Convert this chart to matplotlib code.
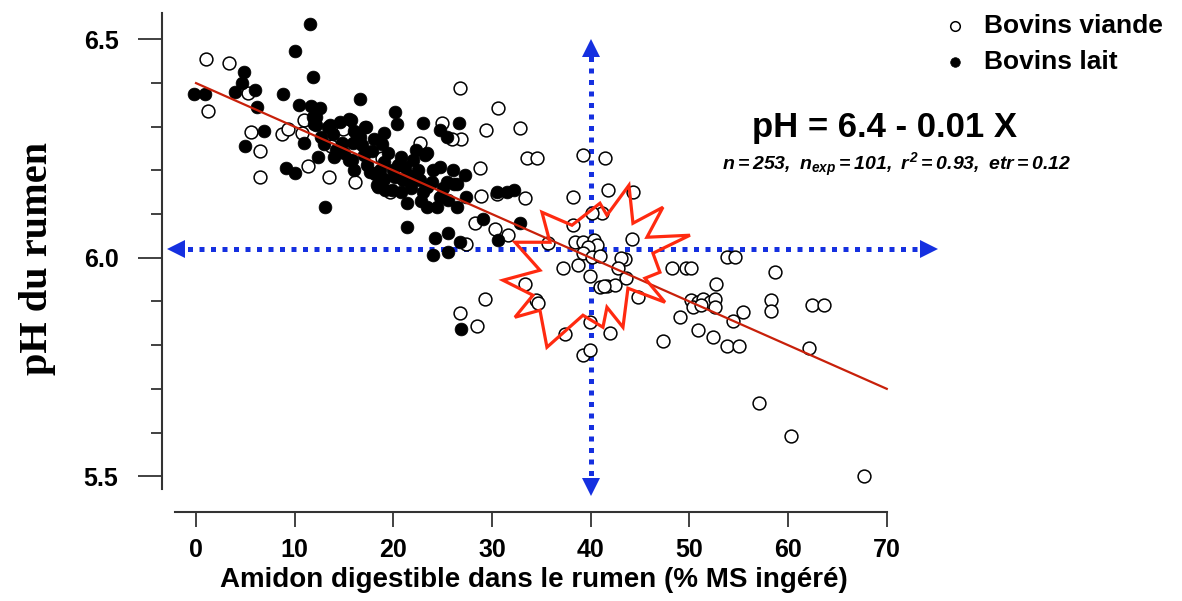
import matplotlib
matplotlib.use("Agg")
import matplotlib.pyplot as plt
import numpy as np
from matplotlib.patches import Polygon
from matplotlib.transforms import ScaledTranslation

plt.rcParams['font.family'] = ['Liberation Sans', 'DejaVu Sans']
plt.rcParams['mathtext.fontset'] = 'custom'
plt.rcParams['mathtext.rm'] = 'Liberation Sans:bold:italic'
plt.rcParams['mathtext.it'] = 'Liberation Sans:bold:italic'
plt.rcParams['mathtext.bf'] = 'Liberation Sans:bold:italic'

# Bovins lait (filled)
lait_x = [-0.2, 0.9, 3.9, 4.7, 4.9, 6.0, 6.2, 5.0, 6.9, 8.8, 10.0, 11.5, 11.9, 10.4,
          11.7, 12.6, 10.9, 9.1, 10.0, 12.4, 13.1, 15.7, 16.6, 17.1, 11.95, 12.2,
          13.4, 13.9, 12.7, 14.8, 14.2, 15.5, 16.3, 16.8, 18.0, 17.3, 18.1, 19.0,
          18.4, 19.1, 11.9, 13.6, 15.5, 20.2, 20.4, 23.0, 26.6, 14.4, 15.9, 15.8,
          17.0, 17.6, 18.6, 18.3, 20.5, 21.2, 22.3, 23.4, 22.0, 20.2, 21.0, 22.0,
          19.9, 20.8, 21.4, 22.7, 23.4, 24.0, 24.7, 23.9, 25.4, 26.4, 24.7, 25.5,
          23.4, 24.4, 26.4, 27.3, 27.4, 21.4, 24.2, 25.5, 26.7, 24.0, 25.5, 26.9,
          24.7, 25.4, 23.2, 26.1, 30.5, 31.5, 32.2, 29.1, 32.8, 30.6, 17.2, 16.6,
          19.0, 12.2, 14.0, 15.0, 16.0, 17.8, 19.5, 20.0, 21.5, 22.5, 23.0, 21.8,
          19.0, 20.8, 22.8, 25.0, 26.0, 18.8, 16.0, 14.6, 13.0]
lait_y = [6.375, 6.375, 6.38, 6.40, 6.425, 6.385, 6.345, 6.255, 6.29, 6.375, 6.474,
          6.536, 6.415, 6.35, 6.348, 6.344, 6.262, 6.205, 6.195, 6.231, 6.117, 6.315,
          6.364, 6.30, 6.306, 6.322, 6.30, 6.283, 6.277, 6.262, 6.247, 6.224, 6.277,
          6.258, 6.273, 6.212, 6.193, 6.22, 6.163, 6.155, 6.323, 6.304, 6.317, 6.334,
          6.306, 6.308, 6.308, 6.247, 6.262, 6.224, 6.235, 6.197, 6.20, 6.167, 6.212,
          6.208, 6.247, 6.239, 6.224, 6.186, 6.178, 6.186, 6.155, 6.151, 6.125, 6.178,
          6.163, 6.201, 6.208, 6.174, 6.174, 6.17, 6.14, 6.132, 6.117, 6.117, 6.117,
          6.19, 6.14, 6.071, 6.045, 6.056, 6.037, 6.006, 6.014, 5.838, 6.293, 6.277,
          6.235, 6.17, 6.151, 6.151, 6.155, 6.09, 6.079, 6.041, 6.30, 6.277, 6.285,
          6.304, 6.23, 6.24, 6.20, 6.245, 6.24, 6.20, 6.19, 6.20, 6.15, 6.16, 6.18,
          6.23, 6.13, 6.16, 6.20, 6.26, 6.29, 6.31, 6.26]

# Bovins viande (open)
viande_x = [0.98, 3.3, 1.2, 5.3, 5.6, 6.5, 6.5, 8.7, 9.35, 10.9, 10.7, 11.3, 13.5,
            13.7, 14.9, 16.1, 18.8, 26.7, 30.6, 29.4, 24.9, 26.9, 25.9, 28.8, 28.9,
            30.5, 28.3, 30.3, 31.6, 27.4, 22.7, 19.7, 32.8, 33.5, 34.6, 33.3, 39.2,
            41.4, 38.2, 41.7, 38.2, 37.2, 38.7, 33.3, 34.5, 34.7, 29.3, 26.8, 28.5,
            37.4, 39.2, 39.9, 42.0, 44.3, 41.1, 40.1, 44.2, 38.4, 39.2, 40.3, 40.6,
            39.7, 39.2, 40.1, 40.9, 43.5, 43.1, 42.8, 43.6, 39.9, 40.9, 41.6, 42.5,
            41.3, 48.2, 49.7, 50.2, 44.8, 39.9, 49.0, 50.2, 50.9, 51.4, 50.4, 50.9,
            47.3, 58.7, 52.7, 52.1, 52.6, 51.2, 52.6, 58.3, 58.3, 62.4, 63.6, 55.4,
            54.4, 52.4, 53.8, 55.0, 62.1, 57.1, 60.3, 67.7, 53.8, 54.6, 35.7]
viande_y = [6.455, 6.447, 6.336, 6.377, 6.287, 6.245, 6.186, 6.283, 6.295, 6.315,
            6.286, 6.211, 6.186, 6.256, 6.295, 6.174, 6.228, 6.388, 6.344, 6.293,
            6.309, 6.273, 6.273, 6.205, 6.141, 6.147, 6.079, 6.067, 6.052, 6.031,
            6.264, 6.15, 6.298, 6.228, 6.228, 6.136, 6.235, 6.229, 6.14, 6.155,
            6.075, 5.976, 5.983, 5.941, 5.903, 5.896, 5.905, 5.874, 5.844, 5.825,
            5.777, 5.79, 5.828, 6.151, 6.103, 6.102, 6.042, 6.037, 6.037, 6.041,
            6.029, 6.025, 6.01, 6.001, 6.004, 5.997, 5.999, 5.976, 5.953, 5.958,
            5.934, 5.935, 5.938, 5.935, 5.977, 5.976, 5.976, 5.911, 5.854, 5.865,
            5.903, 5.899, 5.905, 5.888, 5.835, 5.81, 5.967, 5.94, 5.899, 5.905,
            5.892, 5.888, 5.903, 5.879, 5.892, 5.892, 5.876, 5.856, 5.819, 5.799,
            5.799, 5.793, 5.667, 5.592, 5.501, 6.003, 6.001, 6.033]

# regression pH = 6.4 - 0.01 X
intercept = 6.4
slope = -0.01
fit_x = np.array([0, 70])

# threshold lines
seuil_x = 40
seuil_ph = 6.02

fig = plt.figure(figsize=(11.82, 6.01), dpi=100)
ax = fig.add_axes([161.5 / 1182, 89 / 601, 745 / 1182, 507.5 / 601])
ax.set_xlim(-3.5, 72)
ax.set_ylim(5.418, 6.58)

# blue dotted arrows
blue = '#1530e0'
ax.plot([-2.0, 74.3], [seuil_ph, seuil_ph], color=blue, lw=3.6,
        linestyle=(0, (1, 1.3)), clip_on=False, zorder=1)
ax.plot([seuil_x, seuil_x], [5.475, 6.48], color=blue, lw=3.6,
        linestyle=(0, (1, 1.3)), clip_on=False, zorder=1)
ax.plot([-2.0], [seuil_ph], marker='<', ms=13, color=blue, mew=0, clip_on=False)
ax.plot([74.3], [seuil_ph], marker='>', ms=13, color=blue, mew=0, clip_on=False)
ax.plot([seuil_x], [6.48], marker='^', ms=13, color=blue, mew=0, clip_on=False)
ax.plot([seuil_x], [5.475], marker='v', ms=13, color=blue, mew=0, clip_on=False)

# points
ax.scatter(viande_x, viande_y, s=85, facecolors='white', edgecolors='black',
           linewidths=1.1, zorder=3, label='Bovins viande')
ax.scatter(lait_x, lait_y, s=85, facecolors='black', edgecolors='black',
           linewidths=0.5, zorder=3, label='Bovins lait')

# regression line
ax.plot(fit_x, intercept + slope * fit_x, color='#c8200a', lw=1.6, zorder=4)

# red starburst (pixel offsets around its centre)
star_px = [(32, -80), (36, -42), (66, -58), (50, -28), (93, -30), (56, -12),
           (63, 7), (48, 13), (68, 37), (31, 23), (26, 62), (10, 42), (6, 62),
           (-14, 50), (-50, 82), (-57, 45), (-82, 52), (-64, 30), (-94, 15),
           (-57, 5), (-82, -23), (-47, -23), (-55, -53), (-25, -40), (3, -62),
           (10, -50)]
star_in = np.array([(dx / 100, -dy / 100) for dx, dy in star_px])
tr = fig.dpi_scale_trans + ScaledTranslation(40.63, 5.983, ax.transData)
ax.add_patch(Polygon(star_in, closed=True, fill=False, edgecolor='#ff2a10',
                     lw=2.3, transform=tr, zorder=5, joinstyle='miter'))

# axes style
for s in ['top', 'right']:
    ax.spines[s].set_visible(False)
for s in ['left', 'bottom']:
    ax.spines[s].set_linewidth(1.5)
    ax.spines[s].set_color('#333333')
ax.spines['left'].set_bounds(5.47, 6.56)
ax.spines['bottom'].set_bounds(-2.1, 70)

ax.set_xticks(range(0, 71, 10))
ax.set_yticks([5.5, 6.0, 6.5])
ax.set_yticklabels(['5.5', '6.0', '6.5'])
ax.set_yticks(np.arange(5.6, 6.45, 0.1), minor=True)
ax.tick_params(axis='x', length=11, width=1.3, color='#333333', pad=8,
               labelsize=18)
ax.tick_params(axis='y', which='major', length=17, width=1.3, color='#333333',
               pad=14, labelsize=18)
ax.tick_params(axis='y', which='minor', length=8, width=1.3, color='#333333')
for lab in ax.get_xticklabels() + ax.get_yticklabels():
    lab.set_fontweight('bold')

ax.set_xlabel('Amidon digestible dans le rumen (% MS ingéré)', fontsize=20,
              fontweight='bold', labelpad=3)
ax.set_ylabel('pH du rumen', fontsize=29, fontweight='bold',
              family=['Liberation Serif'], labelpad=20)

# equation and stats
fig.text(885 / 1182, 1 - 128 / 601, 'pH = 6.4 - 0.01 X', fontsize=25,
         fontweight='bold', ha='center', va='center')
fig.text(897 / 1182, 1 - 165 / 601,
         r'$n = 253,\ n_{exp} = 101,\ r^{2} = 0.93,\ etr = 0.12$',
         fontsize=14, ha='center', va='center')

ax.legend(loc='upper left', bbox_to_anchor=(931 / 1182, 1 - 1 / 601),
          bbox_transform=fig.transFigure, frameon=False, markerscale=0.75,
          prop={'weight': 'bold', 'size': 19}, handletextpad=0.7,
          labelspacing=0.45, borderpad=0, handlelength=0.8)

fig.savefig('out.png', dpi=100)
